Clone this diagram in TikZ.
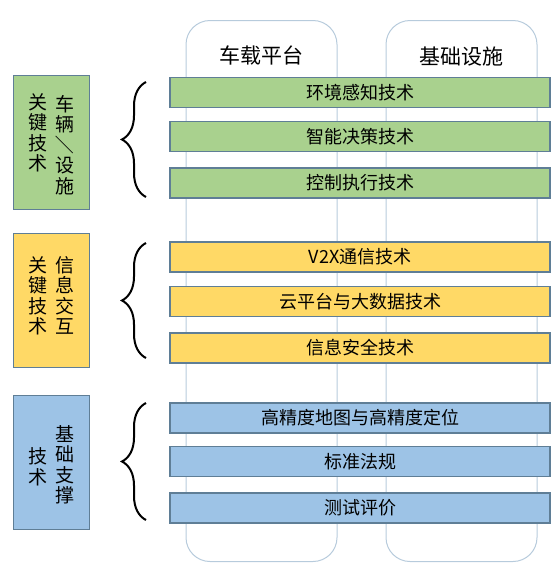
\documentclass[tikz,border=0pt]{standalone}
\usepackage{fontspec}
\setmainfont{Noto Sans CJK SC}
\usetikzlibrary{decorations.pathreplacing}
\definecolor{barGreen}{HTML}{A9D18E}
\definecolor{barYellow}{HTML}{FFD966}
\definecolor{barBlue}{HTML}{9DC3E6}
\definecolor{barLine}{HTML}{5F7E96}
\definecolor{colLine}{HTML}{B7CBDC}
\begin{document}
\begin{tikzpicture}[
  x=1pt, y=-1pt,
  col/.style={draw=colLine, line width=1pt, rounded corners=24pt,
    minimum width=151pt, minimum height=541pt},
  head/.style={font=\fontsize{21}{21}\selectfont},
  bar/.style={draw=barLine, line width=1.1pt, minimum width=380pt,
    minimum height=30pt, inner sep=0pt, font=\fontsize{18}{18}\selectfont},
  cat/.style={draw=barLine, line width=1pt, minimum width=76pt,
    minimum height=134pt},
  vtxt/.style={align=center, inner sep=0pt,
    font=\fontsize{19}{20.5}\selectfont},
  brc/.style={decorate, decoration={brace, amplitude=24pt}, line width=2pt}
]
\useasboundingbox (0,0) rectangle (558,565);

% columns
\node[col] (car) at (261.5,291) {};
\node[col] (infra) at (461.5,291) {};
\node[head] (carT) at (261,55) {车载平台};
\node[head] (infraT) at (461,57) {基础设施};

% key technologies: vehicle / infrastructure
\node[cat, fill=barGreen] (catA) at (51,142) {};
\node[vtxt, anchor=north] (catAl) at (38,93) {关\\键\\技\\术};
\node[vtxt, anchor=north] (catAr) at (65,95)
  {车\\辆\\\rotatebox[origin=c]{-90}{／}\\设\\施};
\node[bar, fill=barGreen] (envP) at (360,92.5) {环境感知技术};
\node[bar, fill=barGreen] (decP) at (360,136.5) {智能决策技术};
\node[bar, fill=barGreen] (ctlP) at (360,183) {控制执行技术};

% key technologies: information exchange
\node[cat, fill=barYellow] (catB) at (51,300.5) {};
\node[vtxt, anchor=north] (catBl) at (38,256) {关\\键\\技\\术};
\node[vtxt, anchor=north] (catBr) at (65,256) {信\\息\\交\\互};
\node[bar, fill=barYellow] (vtx) at (360,257) {V2X通信技术};
\node[bar, fill=barYellow] (cloud) at (360,301.5) {云平台与大数据技术};
\node[bar, fill=barYellow] (sec) at (360,348) {信息安全技术};

% basic support technologies
\node[cat, fill=barBlue] (catC) at (51,462) {};
\node[vtxt] (catCl) at (38,467) {技\\术};
\node[vtxt] (catCr) at (65,465) {基\\础\\支\\撑};
\node[bar, fill=barBlue] (hdmap) at (360,418) {高精度地图与高精度定位};
\node[bar, fill=barBlue] (std) at (360,461.5) {标准法规};
\node[bar, fill=barBlue] (test) at (360,508) {测试评价};

% braces
\coordinate (bA1) at (146,197);
\coordinate (bA2) at (146,82);
\coordinate (bB1) at (146,358);
\coordinate (bB2) at (146,243);
\coordinate (bC1) at (146,520);
\coordinate (bC2) at (146,403);
\draw[brc] (bA1) -- (bA2);
\draw[brc] (bB1) -- (bB2);
\draw[brc] (bC1) -- (bC2);
\end{tikzpicture}
\end{document}
